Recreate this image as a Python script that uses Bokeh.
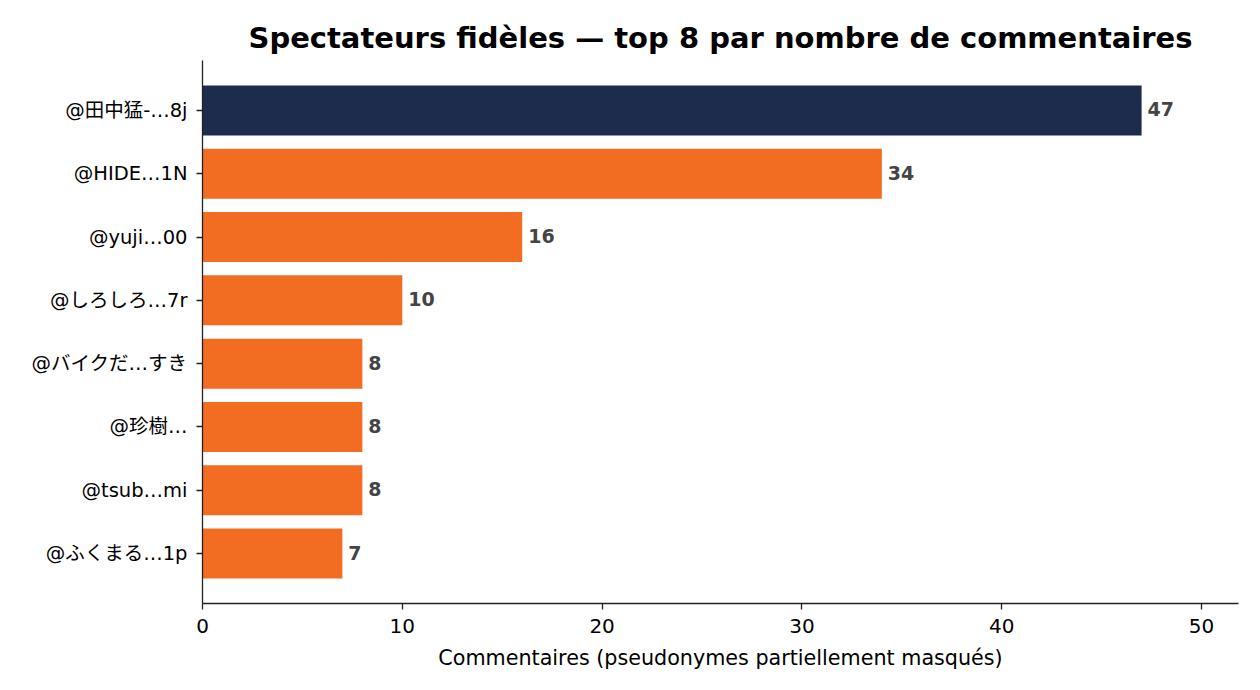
from bokeh.plotting import figure
from bokeh.models import ColumnDataSource, Range1d, FixedTicker, LabelSet
from bokeh.core.properties import value
from bokeh.embed import file_html
from bokeh.resources import INLINE

# Data
viewers = ["@田中猛-…8j", "@HIDE…1N", "@yuji…00", "@しろしろ…7r",
           "@バイクだ…すき", "@珍樹…", "@tsub…mi", "@ふくまる…1p"]
comments = [47, 34, 16, 10, 8, 8, 8, 7]
bar_colors = ["#1d2b4c", "#f26d22", "#f26d22", "#f26d22",
              "#f26d22", "#f26d22", "#f26d22", "#f26d22"]
x_ticks = [0, 10, 20, 30, 40, 50]

FONT = "'DejaVu Sans', 'Noto Sans CJK JP', sans-serif"

pos = list(range(len(viewers)))
src = ColumnDataSource(dict(
    y=pos, v=comments, c=bar_colors,
    lbl=[str(v) for v in comments],
))

p = figure(width=1252, height=680, output_backend="svg", toolbar_location=None,
           x_range=Range1d(0, 51.85), y_range=Range1d(7.79, -0.79),
           title="Spectateurs fidèles — top 8 par nombre de commentaires",
           min_border_left=202, min_border_right=14,
           min_border_top=60, min_border_bottom=77)

p.hbar(y="y", left=0, right="v", height=0.79, color="c", source=src, line_color=None)

labels = LabelSet(x="v", y="y", text="lbl", source=src, x_offset=6, y_offset=1,
                  text_baseline="middle", text_align="left",
                  text_font=value(FONT), text_font_style="bold",
                  text_font_size="19px", text_color="#444444")
p.add_layout(labels)

p.title.text_font = FONT
p.title.text_font_size = "29px"
p.title.text_font_style = "bold"
p.title.align = "center"
p.title.text_color = "#000000"
p.title.standoff = 11

p.outline_line_color = None
p.xgrid.grid_line_color = None
p.ygrid.grid_line_color = None

for ax in (p.xaxis, p.yaxis):
    ax.axis_line_color = "#222222"
    ax.axis_line_width = 1.3
    ax.major_tick_line_color = "#222222"
    ax.major_tick_line_width = 1.3
    ax.major_tick_in = 0
    ax.major_tick_out = 6
    ax.minor_tick_line_color = None
    ax.major_label_text_font = FONT
    ax.major_label_text_color = "#000000"

p.xaxis.major_label_text_font_size = "20px"
p.yaxis.major_label_text_font_size = "19.5px"
p.yaxis.major_label_standoff = 9
p.xaxis.major_label_standoff = 9

p.xaxis.ticker = FixedTicker(ticks=x_ticks)
p.xaxis.axis_label = "Commentaires (pseudonymes partiellement masqués)"
p.xaxis.axis_label_text_font = FONT
p.xaxis.axis_label_text_font_size = "20.7px"
p.xaxis.axis_label_text_font_style = "normal"
p.xaxis.axis_label_text_color = "#000000"
p.xaxis.axis_label_standoff = 10

p.yaxis.ticker = FixedTicker(ticks=pos)
p.yaxis.major_label_overrides = {i: n for i, n in enumerate(viewers)}

open("out.html", "w").write(file_html(p, INLINE))
